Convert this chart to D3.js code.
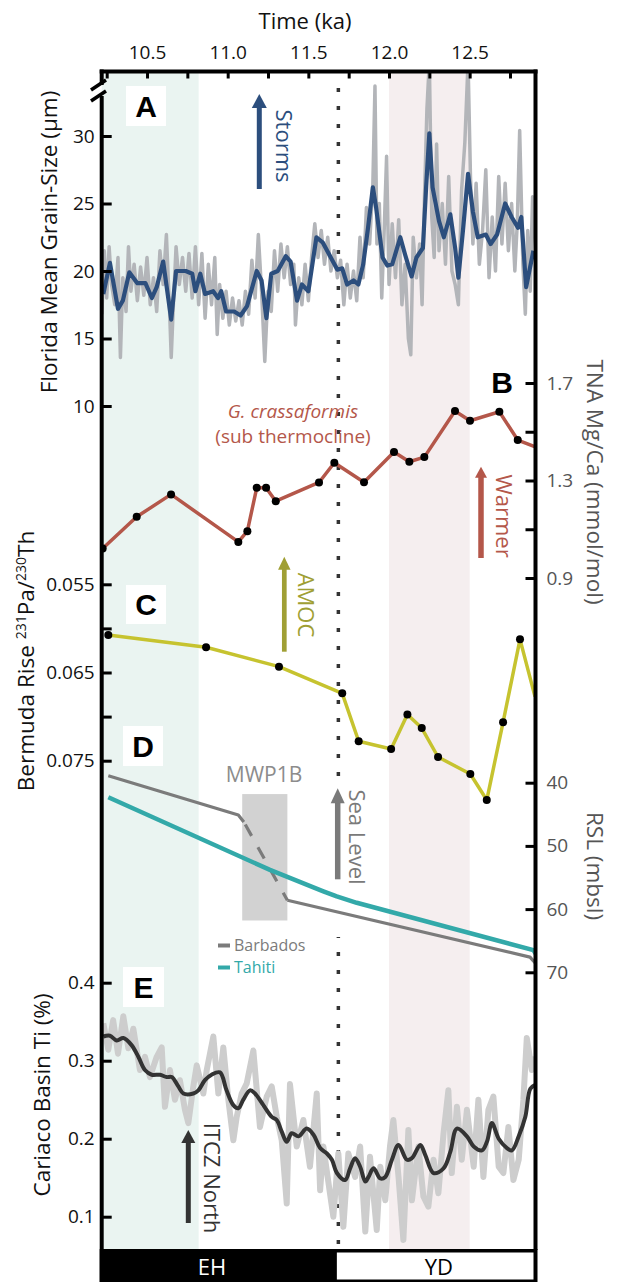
<!DOCTYPE html>
<html><head><meta charset="utf-8">
<script src="https://cdn.jsdelivr.net/npm/d3@7"></script>
<style>
html,body{margin:0;padding:0;background:#fff;}
svg{display:block;font-family:"Open Sans",sans-serif;}
</style></head><body>
<svg id="c" width="617" height="1282"></svg>
<script>
// ---------------- DATA ----------------
const timeTicks = [10.25,10.5,10.75,11.0,11.25,11.5,11.75,12.0,12.25,12.5,12.75];
const timeLabeled = [10.5,11.0,11.5,12.0,12.5];
const ehShade = [10.2, 10.82];
const pinkShade = [12.0, 12.5];
const ydBoundary = 11.686;
const periodNames = ["EH","YD"];

const grainTicks = [10,15,20,25,30];
const mgcaTicks = [0.9,1.1,1.3,1.5,1.7];
const mgcaLabeled = [0.9,1.3,1.7];
const pathTicks = [0.055,0.060,0.065,0.070,0.075];
const pathLabeled = [0.055,0.065,0.075];
const rslTicks = [40,50,60,70];
const tiTicks = [0.1,0.2,0.3,0.4];

// A: Florida mean grain size raw (um)
const grainRaw = [[10.22,16.8],[10.235,21.5],[10.25,18.0],[10.265,21.8],[10.28,19.0],[10.30,17.5],[10.32,21.0],[10.335,13.6],[10.35,19.5],[10.37,17.0],[10.385,21.8],[10.40,18.5],[10.42,20.5],[10.44,17.8],[10.46,20.3],[10.48,18.2],[10.50,21.0],[10.52,17.5],[10.54,19.5],[10.56,17.0],[10.58,21.5],[10.60,19.0],[10.62,22.7],[10.64,17.0],[10.65,13.6],[10.665,18.0],[10.68,21.8],[10.70,19.0],[10.72,21.0],[10.74,18.5],[10.76,21.3],[10.78,18.0],[10.80,21.8],[10.82,17.5],[10.84,21.3],[10.86,16.5],[10.88,20.5],[10.90,17.5],[10.92,21.0],[10.935,15.3],[10.95,19.0],[10.97,16.5],[10.99,18.5],[11.01,16.0],[11.03,18.0],[11.05,16.3],[11.07,17.8],[11.09,16.0],[11.11,18.5],[11.13,16.8],[11.15,20.8],[11.17,18.0],[11.19,22.7],[11.21,18.5],[11.23,13.3],[11.25,18.5],[11.27,17.0],[11.29,21.5],[11.31,18.5],[11.33,22.0],[11.35,19.5],[11.37,21.8],[11.39,19.0],[11.41,20.5],[11.42,16.0],[11.44,19.5],[11.46,17.5],[11.48,20.5],[11.50,17.8],[11.52,21.0],[11.54,23.5],[11.56,21.0],[11.58,23.0],[11.60,20.5],[11.62,22.5],[11.64,20.0],[11.66,21.5],[11.68,19.5],[11.70,20.8],[11.72,17.5],[11.74,20.5],[11.76,18.0],[11.78,20.0],[11.80,17.8],[11.82,22.5],[11.84,19.5],[11.86,24.7],[11.88,22.0],[11.90,26.5],[11.913,33.7],[11.925,22.0],[11.94,25.0],[11.955,18.0],[11.97,23.0],[11.985,28.5],[12.00,19.0],[12.02,23.5],[12.04,19.5],[12.06,23.8],[12.08,17.5],[12.10,20.5],[12.12,15.0],[12.135,13.8],[12.15,22.5],[12.17,19.5],[12.19,22.0],[12.205,17.5],[12.22,25.5],[12.235,32.0],[12.25,35.5],[12.265,24.0],[12.28,21.0],[12.295,29.4],[12.31,21.5],[12.33,25.0],[12.35,20.5],[12.37,27.0],[12.39,20.0],[12.41,19.0],[12.43,17.5],[12.45,26.0],[12.47,29.5],[12.49,35.5],[12.505,27.0],[12.52,22.0],[12.54,26.5],[12.56,20.5],[12.58,23.0],[12.60,27.5],[12.62,19.5],[12.64,24.0],[12.66,20.0],[12.68,27.0],[12.70,22.0],[12.72,26.5],[12.74,21.5],[12.76,25.0],[12.78,20.0],[12.795,23.5],[12.81,30.4],[12.83,20.5],[12.845,16.8],[12.86,23.0],[12.875,18.5],[12.89,25.5],[12.91,21.5]];
// A: smoothed grain size
const grainSmooth = [[10.229,18.3],[10.27,20.6],[10.32,17.2],[10.35,17.8],[10.39,19.9],[10.44,19.1],[10.49,19.1],[10.53,18.0],[10.56,18.8],[10.60,20.7],[10.65,16.4],[10.68,20.0],[10.74,20.0],[10.78,19.8],[10.80,18.5],[10.83,19.8],[10.86,18.3],[10.91,18.5],[10.94,18.0],[10.96,18.5],[10.99,17.0],[11.04,17.0],[11.08,16.7],[11.12,17.4],[11.18,20.0],[11.21,19.3],[11.24,16.5],[11.27,19.8],[11.31,20.0],[11.36,21.1],[11.39,20.7],[11.43,17.8],[11.46,19.0],[11.50,18.5],[11.55,22.5],[11.59,22.1],[11.63,21.2],[11.68,20.1],[11.71,20.2],[11.74,19.0],[11.78,19.3],[11.81,19.0],[11.84,20.5],[11.87,23.2],[11.90,26.2],[11.92,24.7],[11.96,21.0],[11.99,20.4],[12.02,20.5],[12.07,22.5],[12.10,21.2],[12.14,19.6],[12.17,21.0],[12.21,21.7],[12.23,26.2],[12.25,30.2],[12.27,26.2],[12.31,23.7],[12.34,22.5],[12.38,24.2],[12.41,21.7],[12.43,19.5],[12.46,23.2],[12.49,27.2],[12.52,24.4],[12.55,22.5],[12.60,22.7],[12.63,22.0],[12.67,22.7],[12.72,25.0],[12.76,24.0],[12.80,23.2],[12.82,24.0],[12.85,18.8],[12.895,21.5]];

// B: TNA Mg/Ca (mmol/mol)
const mgcaAge = [10.225,10.436,10.649,11.066,11.122,11.18,11.238,11.298,11.566,11.661,11.845,12.031,12.126,12.219,12.409,12.502,12.684,12.798,12.916];
const mgcaVal = [1.021,1.151,1.243,1.048,1.092,1.270,1.270,1.215,1.292,1.373,1.293,1.417,1.377,1.396,1.585,1.545,1.582,1.466,1.436];

// C: Bermuda Rise 231Pa/230Th
const pathAge = [10.26,10.866,11.318,11.71,11.812,12.013,12.114,12.203,12.304,12.504,12.606,12.707,12.812,12.905];
const pathVal = [0.06075,0.06214,0.06434,0.06736,0.0728,0.07367,0.06976,0.0713,0.07458,0.07651,0.07946,0.07065,0.06124,0.06774];

// D: relative sea level (mbsl)
const barbadosAge = [10.26,11.066,11.10,11.37,12.874,12.916];
const barbadosRSL = [38.9,45.1,46.2,58.6,67.6,68.8];
const tahitiAge = [10.26,11.262,11.593,11.676,11.80,12.895,12.916];
const tahitiRSL = [42.3,53.8,57.2,58.0,59.0,66.5,67.3];
const mwp1b = {age:[11.09,11.37], rsl:[41.8,61.8]};

// E: Cariaco Basin Ti (%)
const tiRaw = [[10.229,0.348],[10.26,0.314],[10.29,0.352],[10.32,0.309],[10.353,0.357],[10.384,0.316],[10.415,0.341],[10.456,0.288],[10.487,0.305],[10.518,0.279],[10.56,0.305],[10.591,0.317],[10.611,0.241],[10.642,0.288],[10.673,0.250],[10.704,0.275],[10.735,0.237],[10.756,0.220],[10.787,0.267],[10.808,0.294],[10.849,0.258],[10.87,0.288],[10.911,0.331],[10.942,0.258],[10.973,0.317],[11.004,0.250],[11.035,0.198],[11.056,0.228],[11.087,0.258],[11.118,0.271],[11.159,0.313],[11.2,0.215],[11.242,0.254],[11.273,0.267],[11.304,0.228],[11.335,0.198],[11.366,0.117],[11.386,0.270],[11.428,0.190],[11.469,0.224],[11.51,0.164],[11.552,0.258],[11.573,0.134],[11.593,0.190],[11.634,0.130],[11.655,0.100],[11.686,0.181],[11.717,0.087],[11.748,0.181],[11.79,0.151],[11.821,0.190],[11.853,0.081],[11.882,0.177],[11.924,0.083],[11.946,0.164],[11.977,0.121],[12.006,0.190],[12.027,0.224],[12.059,0.151],[12.089,0.070],[12.12,0.211],[12.142,0.121],[12.182,0.190],[12.213,0.126],[12.244,0.113],[12.276,0.173],[12.306,0.130],[12.338,0.207],[12.368,0.262],[12.389,0.156],[12.421,0.241],[12.451,0.173],[12.483,0.237],[12.525,0.164],[12.554,0.250],[12.585,0.151],[12.616,0.237],[12.647,0.254],[12.68,0.164],[12.709,0.156],[12.74,0.215],[12.771,0.147],[12.804,0.173],[12.833,0.250],[12.854,0.329],[12.885,0.288],[12.907,0.305]];
const tiSmooth = [[10.229,0.331],[10.27,0.332],[10.312,0.326],[10.353,0.329],[10.404,0.320],[10.446,0.305],[10.487,0.288],[10.529,0.282],[10.58,0.282],[10.622,0.279],[10.653,0.279],[10.694,0.267],[10.725,0.258],[10.787,0.258],[10.818,0.262],[10.859,0.275],[10.9,0.282],[10.952,0.285],[10.993,0.262],[11.035,0.243],[11.066,0.239],[11.097,0.250],[11.138,0.262],[11.169,0.258],[11.221,0.243],[11.273,0.228],[11.304,0.224],[11.335,0.209],[11.366,0.196],[11.397,0.207],[11.439,0.203],[11.49,0.213],[11.532,0.205],[11.573,0.188],[11.615,0.181],[11.646,0.173],[11.677,0.156],[11.728,0.147],[11.759,0.162],[11.79,0.175],[11.821,0.164],[11.853,0.145],[11.873,0.151],[11.904,0.162],[11.946,0.149],[11.977,0.151],[12.018,0.173],[12.059,0.192],[12.111,0.173],[12.142,0.175],[12.194,0.192],[12.225,0.179],[12.276,0.156],[12.338,0.162],[12.38,0.183],[12.421,0.213],[12.483,0.203],[12.525,0.190],[12.576,0.185],[12.607,0.196],[12.638,0.220],[12.68,0.200],[12.731,0.188],[12.762,0.185],[12.804,0.203],[12.845,0.228],[12.876,0.264],[12.907,0.269]];

// ---------------- LAYOUT ----------------
const svg = d3.select("#c");
const L = 101.7, R = 535.5, T = 71.5, B = 1250;
const FONT = '"Open Sans", sans-serif';
const x = d3.scaleLinear().domain([10.25, 12.75]).range([106.7, 510]);
const yA = d3.scaleLinear().domain([10, 30]).range([406, 136]);
const yB = d3.scaleLinear().domain([0.9, 1.7]).range([578, 383]);
const yC = d3.scaleLinear().domain([0.055, 0.075]).range([584.3, 760.7]);
const yD = d3.scaleLinear().domain([40, 70]).range([782.7, 972.3]);
const yE = d3.scaleLinear().domain([0.1, 0.4]).range([1216.7, 982.7]);

const C = {blue:"#2c4e7d", grayA:"#b3b5b9", red:"#b4574a", olive:"#c6c32f", oliveDark:"#a09f34",
  barb:"#7b7b7b", tahiti:"#33a9a9", grayE:"#cdcdcd", dark:"#333333", green:"#eaf4f1", pink:"#f5eeef"};

svg.append("defs").append("clipPath").attr("id","plot")
  .append("rect").attr("x",L).attr("y",T).attr("width",R-L).attr("height",B-T);

// background shading
svg.append("rect").attr("x",L).attr("y",T).attr("width",x(ehShade[1])-L).attr("height",B-T).attr("fill",C.green);
svg.append("rect").attr("x",x(pinkShade[0])).attr("y",T).attr("width",x(pinkShade[1])-x(pinkShade[0])).attr("height",B-T).attr("fill",C.pink);

// dotted boundary
svg.append("line").attr("x1",x(ydBoundary)).attr("x2",x(ydBoundary)).attr("y1",88).attr("y2",1248)
  .attr("stroke","#333").attr("stroke-width",3.5).attr("stroke-dasharray","4,14");
// white gap for sea-level arrow
svg.append("rect").attr("x",x(ydBoundary)-6).attr("y",779).attr("width",12).attr("height",158).attr("fill","#fff");

// panel label boxes
function panelLabel(txt, bx, by, w, h, box){
  if(box) svg.append("rect").attr("x",bx).attr("y",by).attr("width",w).attr("height",h).attr("fill","#fff");
  svg.append("text").attr("x",bx+w/2).attr("y",by+h/2).attr("dy","0.36em").attr("text-anchor","middle")
    .attr("font-family","Liberation Sans, Arial, sans-serif").attr("font-weight","bold").attr("font-size",30).text(txt);
}
panelLabel("A",126,86,40,40,true);
panelLabel("B",482,362,40,40,false);
panelLabel("C",126,585,40,39,true);
panelLabel("D",123,726,40,40,true);
panelLabel("E",123,967,41,40,true);

// MWP1B box
svg.append("rect").attr("x",x(mwp1b.age[0])).attr("y",yD(mwp1b.rsl[0]))
  .attr("width",x(mwp1b.age[1])-x(mwp1b.age[0])).attr("height",yD(mwp1b.rsl[1])-yD(mwp1b.rsl[0])).attr("fill","#d2d2d2");

const plot = svg.append("g").attr("clip-path","url(#plot)");

// A
plot.append("path").datum(grainRaw).attr("fill","none").attr("stroke",C.grayA).attr("stroke-width",3.5).attr("stroke-linejoin","round")
  .attr("d", d3.line().x(d=>x(d[0])).y(d=>yA(d[1])));
plot.append("path").datum(grainSmooth).attr("fill","none").attr("stroke",C.blue).attr("stroke-width",4.2).attr("stroke-linejoin","round")
  .attr("d", d3.line().x(d=>x(d[0])).y(d=>yA(d[1])));

// B
const mgca = mgcaAge.map((a,i)=>[a,mgcaVal[i]]);
plot.append("path").datum(mgca).attr("fill","none").attr("stroke",C.red).attr("stroke-width",3.5).attr("stroke-linejoin","round")
  .attr("d", d3.line().x(d=>x(d[0])).y(d=>yB(d[1])));
plot.selectAll(".dB").data(mgca.filter(d=>d[0]<12.88)).join("circle").attr("cx",d=>x(d[0])).attr("cy",d=>yB(d[1])).attr("r",4).attr("fill","#000");

// C
const path = pathAge.map((a,i)=>[a,pathVal[i]]);
plot.append("path").datum(path).attr("fill","none").attr("stroke",C.olive).attr("stroke-width",3.5).attr("stroke-linejoin","round")
  .attr("d", d3.line().x(d=>x(d[0])).y(d=>yC(d[1])));
plot.selectAll(".dC").data(path.filter(d=>d[0]<12.88)).join("circle").attr("cx",d=>x(d[0])).attr("cy",d=>yC(d[1])).attr("r",4).attr("fill","#000");

// D
const barb = barbadosAge.map((a,i)=>[a,barbadosRSL[i]]);
const lineD = d3.line().x(d=>x(d[0])).y(d=>yD(d[1]));
plot.append("path").datum(barb.slice(0,3)).attr("fill","none").attr("stroke",C.barb).attr("stroke-width",3.2).attr("stroke-linejoin","round").attr("d",lineD);
plot.append("path").datum(barb.slice(2,4)).attr("fill","none").attr("stroke",C.barb).attr("stroke-width",3.2).attr("stroke-dasharray","13,13").attr("stroke-dashoffset",-3).attr("d",lineD);
plot.append("path").datum(barb.slice(3)).attr("fill","none").attr("stroke",C.barb).attr("stroke-width",3.2).attr("stroke-linejoin","round").attr("d",lineD);
const tahiti = tahitiAge.map((a,i)=>[a,tahitiRSL[i]]);
plot.append("path").datum(tahiti).attr("fill","none").attr("stroke",C.tahiti).attr("stroke-width",4.5).attr("stroke-linejoin","round").attr("d",lineD);

// E
plot.append("path").datum(tiRaw).attr("fill","none").attr("stroke",C.grayE).attr("stroke-width",6).attr("stroke-linejoin","round")
  .attr("d", d3.line().x(d=>x(d[0])).y(d=>yE(d[1])));
plot.append("path").datum(tiSmooth).attr("fill","none").attr("stroke",C.dark).attr("stroke-width",4).attr("stroke-linejoin","round")
  .attr("d", d3.line().curve(d3.curveCatmullRom.alpha(0.5)).x(d=>x(d[0])).y(d=>yE(d[1])));

// arrows & annotations
function arrow(xp, yTip, yTail, color, sw, hw, hh){
  svg.append("line").attr("x1",xp).attr("x2",xp).attr("y1",yTip+hh-1).attr("y2",yTail).attr("stroke",color).attr("stroke-width",sw);
  svg.append("path").attr("d",`M${xp},${yTip} L${xp+hw/2},${yTip+hh} L${xp-hw/2},${yTip+hh} Z`).attr("fill",color);
}
function vtext(txt, xb, yc, color, size, rot){
  return svg.append("text").attr("transform",`translate(${xb},${yc}) rotate(${rot})`).attr("text-anchor","middle")
    .attr("font-family",FONT).attr("font-size",size).attr("fill",color).text(txt);
}
arrow(259.3,94,189,C.blue,5,15,14);
vtext("Storms",276,146,C.blue,22,90);
arrow(481,466.7,558,C.red,5.5,12,11);
vtext("Warmer",496,516,C.red,22,90);
arrow(284.3,556.7,651.7,C.oliveDark,4.7,12.5,13);
vtext("AMOC",297.5,605,C.oliveDark,22,90);
arrow(337.7,788.3,879.3,"#7a7a7a",5.5,14,15);
vtext("Sea Level",349,837,"#7a7a7a",22,90);
arrow(188.3,1130,1223,C.dark,5,14,13);
vtext("ITCZ North",203.5,1178,C.dark,22,90);

svg.append("text").attr("x",293).attr("y",418).attr("text-anchor","middle").attr("font-family",FONT).attr("font-style","italic")
  .attr("font-size",19).attr("fill",C.red).text("G. crassaformis");
svg.append("text").attr("x",293).attr("y",443).attr("text-anchor","middle").attr("font-family",FONT)
  .attr("font-size",19).attr("fill",C.red).text("(sub thermocline)");
svg.append("text").attr("x",264).attr("y",782).attr("text-anchor","middle").attr("font-family",FONT)
  .attr("font-size",21).attr("fill","#8c8c8c").text("MWP1B");

// legend
const legend = [{name:"Barbados", color:C.barb, y:945.5},{name:"Tahiti", color:C.tahiti, y:967.5}];
legend.forEach(l=>{
  svg.append("line").attr("x1",218).attr("x2",230).attr("y1",l.y).attr("y2",l.y).attr("stroke",l.color).attr("stroke-width",4);
  svg.append("text").attr("x",234).attr("y",l.y+5.5).attr("font-family",FONT).attr("font-size",16).attr("fill",l.color).text(l.name);
});

// ---------------- AXES ----------------
const near = (arr,d)=>arr.some(v=>Math.abs(v-d)<1e-9);
function styleAxis(g, color){
  g.select(".domain").remove();
  g.selectAll(".tick line").attr("stroke","#000").attr("stroke-width",3);
  g.selectAll(".tick text").attr("font-family",FONT).attr("font-size",19).attr("fill",color);
}
svg.append("g").attr("transform",`translate(0,${T})`)
  .call(d3.axisTop(x).tickValues(timeTicks).tickSize(-7).tickPadding(13).tickFormat(d=>near(timeLabeled,d)?d3.format(".1f")(d):""))
  .call(g=>styleAxis(g,"#111"));
svg.append("g").attr("transform",`translate(${L},0)`)
  .call(d3.axisLeft(yA).tickValues(grainTicks).tickSize(-10).tickPadding(7).tickFormat(d3.format("d")))
  .call(g=>styleAxis(g,"#111"));
svg.append("g").attr("transform",`translate(${L},0)`)
  .call(d3.axisLeft(yC).tickValues(pathTicks).tickSize(-10).tickPadding(7).tickFormat(d=>near(pathLabeled,d)?d3.format(".3f")(d):""))
  .call(g=>styleAxis(g,"#111"));
svg.append("g").attr("transform",`translate(${L},0)`)
  .call(d3.axisLeft(yE).tickValues(tiTicks).tickSize(-10).tickPadding(7).tickFormat(d3.format(".1f")))
  .call(g=>styleAxis(g,"#111"));
svg.append("g").attr("transform",`translate(${R},0)`)
  .call(d3.axisRight(yB).tickValues(mgcaTicks).tickSize(-10).tickPadding(11).tickFormat(d=>near(mgcaLabeled,d)?d3.format(".1f")(d):""))
  .call(g=>styleAxis(g,"#555"));
svg.append("g").attr("transform",`translate(${R},0)`)
  .call(d3.axisRight(yD).tickValues(rslTicks).tickSize(-10).tickPadding(11).tickFormat(d3.format("d")))
  .call(g=>styleAxis(g,"#555"));

// axis titles
svg.append("text").attr("x",305).attr("y",29).attr("text-anchor","middle").attr("font-family",FONT).attr("font-size",22).attr("fill","#111").text("Time (ka)");
vtext("Florida Mean Grain-Size (µm)",57,242,"#111",22.5,-90);
const bt = svg.append("text").attr("transform","translate(34,661) rotate(-90)").attr("text-anchor","middle")
  .attr("font-family",FONT).attr("font-size",22.5).attr("fill","#111");
bt.append("tspan").text("Bermuda Rise ");
bt.append("tspan").attr("dy",-8).attr("font-size",14).text("231");
bt.append("tspan").attr("dy",8).text("Pa/");
bt.append("tspan").attr("dy",-8).attr("font-size",14).text("230");
bt.append("tspan").attr("dy",8).text("Th");
vtext("Cariaco Basin Ti (%)",50,1095,"#111",22.5,-90);
vtext("TNA Mg/Ca (mmol/mol)",587,482,"#555",22.5,90);
vtext("RSL (mbsl)",587,866,"#555",22.5,90);

// ---------------- FRAME ----------------
const fr = svg.append("g").attr("stroke","#000").attr("stroke-width",4).attr("fill","none");
fr.append("line").attr("x1",L-2).attr("x2",R+2).attr("y1",T).attr("y2",T);
fr.append("line").attr("x1",R).attr("x2",R).attr("y1",T-2).attr("y2",B);
fr.append("line").attr("x1",L).attr("x2",L).attr("y1",T-2).attr("y2",85);
fr.append("line").attr("x1",L).attr("x2",L).attr("y1",96).attr("y2",1282);
fr.append("line").attr("x1",91).attr("x2",106).attr("y1",90).attr("y2",80).attr("stroke-width",3.5);
fr.append("line").attr("x1",91).attr("x2",106).attr("y1",101).attr("y2",91).attr("stroke-width",3.5);

// period bar
svg.append("rect").attr("x",L-2).attr("y",B-1).attr("width",R-L+4).attr("height",1282-B+1).attr("fill","#000");
svg.append("rect").attr("x",x(ydBoundary)-1.5).attr("y",B+2.5).attr("width",R-2-(x(ydBoundary)-1.5)).attr("height",27).attr("fill","#fff");
svg.append("text").attr("x",(L+x(ydBoundary))/2-8).attr("y",1275).attr("text-anchor","middle").attr("font-family",FONT).attr("font-size",22).attr("fill","#fff").text(periodNames[0]);
svg.append("text").attr("x",(x(ydBoundary)+R)/2+2).attr("y",1275).attr("text-anchor","middle").attr("font-family",FONT).attr("font-size",22).attr("fill","#000").text(periodNames[1]);
</script>
</body></html>
